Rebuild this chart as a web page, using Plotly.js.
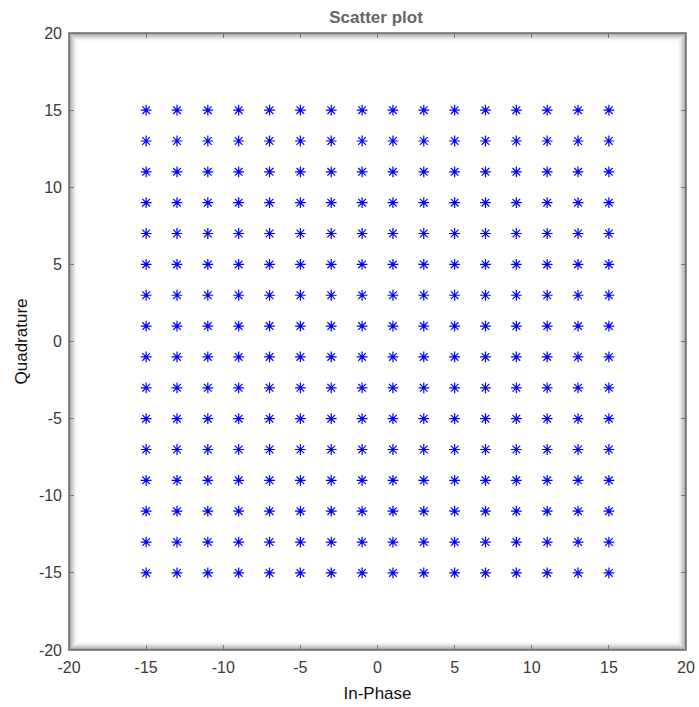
<!DOCTYPE html>
<html>
<head>
<meta charset="utf-8">
<script src="https://cdn.plot.ly/plotly-3.0.1.min.js"></script>
<style>html,body{margin:0;padding:0;background:#fff;}#chart{width:699px;height:707px;}</style>
</head>
<body>
<div id="chart"></div>
<script>
// Constellation levels (256-QAM)
const inPhaseLevels = [-15, -13, -11, -9, -7, -5, -3, -1, 1, 3, 5, 7, 9, 11, 13, 15];
const quadratureLevels = [-15, -13, -11, -9, -7, -5, -3, -1, 1, 3, 5, 7, 9, 11, 13, 15];
const tickValues = [-20, -15, -10, -5, 0, 5, 10, 15, 20];
const tickLabels = ["-20", "-15", "-10", "-5", "0", "5", "10", "15", "20"];

const xs = [], ys = [];
for (const q of quadratureLevels) {
  for (const i of inPhaseLevels) { xs.push(i); ys.push(q); }
}

const W = 699, H = 707;
const margin = {l: 69, r: 13, t: 33, b: 57, pad: 0};
const pw = W - margin.l - margin.r, ph = H - margin.t - margin.b;

// inner shadow frame
const shapes = [];
const shadeN = 9;
for (let k = 0; k < shadeN; k++) {
  const dx = (k + 0.5) / pw, dy = (k + 0.5) / ph;
  const a = 0.55 * Math.pow(1 - k / shadeN, 1.8);
  shapes.push({type: 'rect', xref: 'paper', yref: 'paper',
    x0: dx, x1: 1 - dx, y0: dy, y1: 1 - dy,
    line: {color: 'rgba(80,80,80,' + a.toFixed(3) + ')', width: 1}, layer: 'below'});
}
shapes.push({type: 'rect', xref: 'paper', yref: 'paper', x0: 0, x1: 1, y0: 0, y1: 1,
  line: {color: '#6a6a6a', width: 1.5}, layer: 'above'});

const font = 'Liberation Sans, Arial, sans-serif';
const axisCommon = {
  range: [-20, 20], tickmode: 'array', tickvals: tickValues, ticktext: tickLabels,
  ticks: 'inside', ticklen: 5, tickcolor: '#777', tickwidth: 1,
  mirror: 'ticks', showline: false, showgrid: false, zeroline: false,
  tickfont: {family: font, size: 16, color: '#3a3a3a'}
};

const trace = {
  x: xs, y: ys, type: 'scatter', mode: 'markers',
  marker: {symbol: 'asterisk-open', size: 9, color: '#0000ff', line: {color: '#0000ff', width: 1.2}},
  hoverinfo: 'x+y'
};

const layout = {
  width: W, height: H, margin: margin,
  paper_bgcolor: '#fff', plot_bgcolor: '#fff',
  showlegend: false,
  title: {text: '<b>Scatter plot</b>', x: 0.538, xanchor: 'center', y: 0.976, yanchor: 'middle',
    font: {family: font, size: 17, color: '#666'}},
  xaxis: Object.assign({}, axisCommon, {
    ticklabelstandoff: 6,
    title: {text: 'In-Phase', standoff: 12, font: {family: font, size: 17, color: '#111'}}
  }),
  yaxis: Object.assign({}, axisCommon, {
    ticklabelstandoff: 6,
    title: {text: 'Quadrature', standoff: 6, font: {family: font, size: 17, color: '#111'}}
  }),
  shapes: shapes
};

Plotly.newPlot('chart', [trace], layout, {displayModeBar: false, staticPlot: true});
</script>
</body>
</html>
